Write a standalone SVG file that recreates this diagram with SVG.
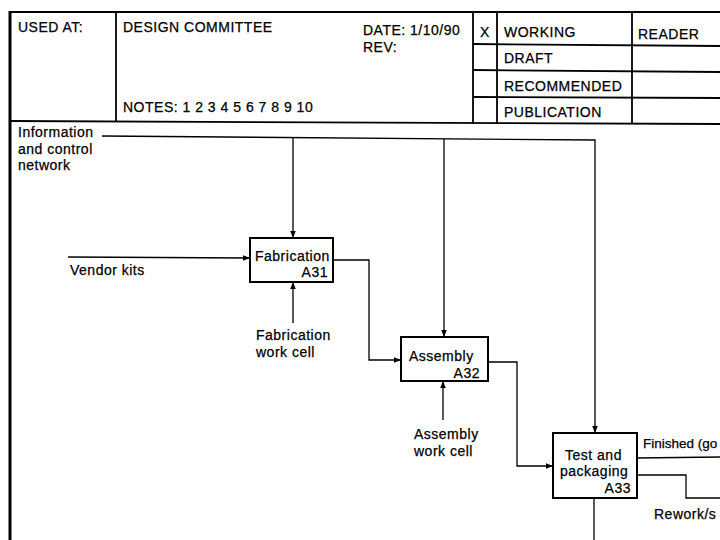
<svg xmlns="http://www.w3.org/2000/svg" width="720" height="540" viewBox="0 0 720 540">
<style>
text{font-family:"Liberation Sans",Arial,sans-serif;fill:#000;stroke:#000;stroke-width:0.25}
.h{font-size:14px;letter-spacing:0.5px}
.l{font-size:14px;letter-spacing:0.5px}
.frame{fill:none;stroke:#000;stroke-width:1.8}
.box{fill:#fff;stroke:#000;stroke-width:2}
.c{fill:none;stroke:#000;stroke-width:1.3}
</style>
<defs>
<marker id="ah" viewBox="0 0 10 10" refX="10" refY="5" markerWidth="7" markerHeight="7" markerUnits="userSpaceOnUse" orient="auto">
<path d="M0,1 L10,5 L0,9 z" fill="#000"/>
</marker>
</defs>
<rect width="720" height="540" fill="#fff"/>
<g id="header">
<line class="frame" x1="10" y1="12" x2="720" y2="12"/>
<line x1="10" y1="11" x2="10" y2="540" stroke="#000" stroke-width="3"/>
<line class="frame" x1="10" y1="121" x2="720" y2="124"/>
<line class="frame" x1="116" y1="12" x2="116" y2="121"/>
<line class="frame" x1="473" y1="12" x2="473" y2="124"/>
<line class="frame" x1="497" y1="12" x2="497" y2="124"/>
<line class="frame" x1="632" y1="12" x2="632" y2="124"/>
<line class="frame" x1="473" y1="44" x2="720" y2="46"/>
<line class="frame" x1="473" y1="70" x2="720" y2="72"/>
<line class="frame" x1="473" y1="97" x2="720" y2="98"/>
<text class="h" x="18" y="32">USED AT:</text>
<text class="h" x="123" y="32">DESIGN COMMITTEE</text>
<text class="h" x="123" y="112">NOTES: 1 2 3 4 5 6 7 8 9 10</text>
<text class="h" x="363" y="35">DATE: 1/10/90</text>
<text class="h" x="363" y="52">REV:</text>
<text class="h" x="480" y="37">X</text>
<text class="h" x="504" y="37">WORKING</text>
<text class="h" x="638" y="39">READER</text>
<text class="h" x="504" y="63">DRAFT</text>
<text class="h" x="504" y="91">RECOMMENDED</text>
<text class="h" x="504" y="117">PUBLICATION</text>
</g>
<g id="connectors">
<polyline class="c" points="102,136 595,140 595,433" marker-end="url(#ah)"/>
<line class="c" x1="293" y1="137" x2="293" y2="238" marker-end="url(#ah)"/>
<line class="c" x1="444" y1="139" x2="444" y2="337" marker-end="url(#ah)"/>
<line class="c" x1="68" y1="257" x2="250" y2="258" marker-end="url(#ah)"/>
<line class="c" x1="293" y1="323" x2="293" y2="282" marker-end="url(#ah)"/>
<polyline class="c" points="333,260 369,260 369,360 401,360" marker-end="url(#ah)"/>
<line class="c" x1="443" y1="420" x2="443" y2="381" marker-end="url(#ah)"/>
<polyline class="c" points="488,362 517,362 517,466 553,466" marker-end="url(#ah)"/>
<line class="c" x1="637" y1="458" x2="720" y2="457"/>
<polyline class="c" points="637,475 686,475 686,498 720,498"/>
<line class="c" x1="594" y1="540" x2="594" y2="498"/>
</g>
<g id="label-info">
<text class="l" x="18" y="137">Information</text>
<text class="l" x="18" y="154">and control</text>
<text class="l" x="18" y="170">network</text>
</g>
<g id="label-vendor"><text class="l" x="70" y="275">Vendor kits</text></g>
<g id="A31">
<rect class="box" x="250" y="238" width="83" height="44"/>
<text class="l" x="255" y="261">Fabrication</text>
<text class="l" x="328" y="277" text-anchor="end">A31</text>
</g>
<g id="label-fabcell">
<text class="l" x="256" y="340">Fabrication</text>
<text class="l" x="256" y="357">work cell</text>
</g>
<g id="A32">
<rect class="box" x="401" y="337" width="87" height="44"/>
<text class="l" x="409" y="361">Assembly</text>
<text class="l" x="480" y="378" text-anchor="end">A32</text>
</g>
<g id="label-asmcell">
<text class="l" x="414" y="439">Assembly</text>
<text class="l" x="414" y="456">work cell</text>
</g>
<g id="A33">
<rect class="box" x="553" y="433" width="84" height="65"/>
<text class="l" x="565" y="460">Test and</text>
<text class="l" x="560" y="476">packaging</text>
<text class="l" x="631" y="493" text-anchor="end">A33</text>
</g>
<g id="label-out">
<text x="643" y="448" font-size="13.5">Finished (go</text>
<text class="l" x="654" y="519">Rework/s</text>
</g>
</svg>
